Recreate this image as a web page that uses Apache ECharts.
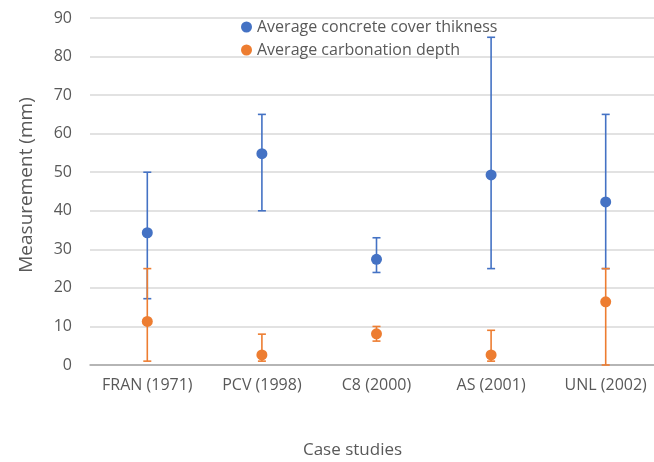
<!DOCTYPE html>
<html><head><meta charset="utf-8">
<script src="https://cdn.jsdelivr.net/npm/echarts@6/dist/echarts.min.js"></script>
<style>html,body{margin:0;padding:0;background:#fff;overflow:hidden}#c{width:664px;height:462px}</style>
</head><body><div id="c"></div>
<script>
var categories = ['FRAN (1971)', 'PCV (1998)', 'C8 (2000)', 'AS (2001)', 'UNL (2002)'];
var coverMean = [34.3, 54.8, 27.4, 49.3, 42.3];
var coverLow  = [17.2, 40, 24, 25, 25];
var coverHigh = [50, 65, 33, 85, 65];
var carbMean = [11.3, 2.6, 8.1, 2.6, 16.4];
var carbLow  = [1, 1, 6.2, 1, 0];
var carbHigh = [25, 8, 10, 9, 25];
var yTicks = [0, 10, 20, 30, 40, 50, 60, 70, 80, 90];

var BLUE = '#4472C4', ORANGE = '#ED7D31';

function errData(low, high) {
  return categories.map(function (c, i) { return [i, low[i], high[i]]; });
}
function errRender(color) {
  return function (params, api) {
    var x = api.value(0);
    var lo = api.coord([x, api.value(1)]);
    var hi = api.coord([x, api.value(2)]);
    var w = 4;
    var st = { stroke: color, lineWidth: 1.6 };
    return {
      type: 'group',
      children: [
        { type: 'line', shape: { x1: lo[0], y1: lo[1], x2: hi[0], y2: hi[1] }, style: st },
        { type: 'line', shape: { x1: hi[0] - w, y1: hi[1], x2: hi[0] + w, y2: hi[1] }, style: st },
        { type: 'line', shape: { x1: lo[0] - w, y1: lo[1], x2: lo[0] + w, y2: lo[1] }, style: st }
      ]
    };
  };
}

var chart = echarts.init(document.getElementById('c'));
chart.setOption({
  animation: false,
  backgroundColor: '#fff',
  textStyle: { fontFamily: 'Open Sans' },
  grid: { left: 90, right: 1, top: 18, bottom: 97, outerBoundsMode: 'none', containLabel: false },
  legend: {
    orient: 'vertical', left: 236, top: 14, itemGap: 7,
    icon: 'circle', itemWidth: 11, itemHeight: 11,
    textStyle: { color: '#595959', fontSize: 16, fontFamily: 'Open Sans', padding: [0, 0, 0, 0] },
    data: ['Average concrete cover thikness', 'Average carbonation depth']
  },
  xAxis: {
    type: 'category', data: categories,
    name: 'Case studies', nameLocation: 'middle', nameGap: 77,
    nameTextStyle: { color: '#595959', fontSize: 17, padding: [0, 48, 0, 0] },
    axisLine: { lineStyle: { color: '#a6a6a6', width: 1.5 } },
    axisTick: { show: false },
    axisLabel: { color: '#595959', fontSize: 16, margin: 12, interval: 0, hideOverlap: false }
  },
  yAxis: {
    type: 'value', min: 0, max: 90, interval: 10,
    name: 'Measurement (mm)', nameLocation: 'middle', nameGap: 54,
    nameTextStyle: { color: '#595959', fontSize: 19, padding: [0, 0, 0, 13] },
    axisLine: { show: false }, axisTick: { show: false },
    axisLabel: { color: '#595959', fontSize: 16, margin: 18,
      formatter: function (v) { return yTicks.indexOf(v) >= 0 ? String(v) : ''; } },
    splitLine: { lineStyle: { color: '#d9d9d9', width: 1.5 } }
  },
  series: [
    { type: 'custom', name: 'coverErr', renderItem: errRender(BLUE), data: errData(coverLow, coverHigh), z: 2, encode: { x: 0, y: [1, 2] } },
    { type: 'custom', name: 'carbErr', renderItem: errRender(ORANGE), data: errData(carbLow, carbHigh), z: 3, encode: { x: 0, y: [1, 2] } },
    { type: 'scatter', name: 'Average concrete cover thikness', data: coverMean, symbolSize: 11, itemStyle: { color: BLUE, opacity: 1 }, z: 5 },
    { type: 'scatter', name: 'Average carbonation depth', data: carbMean, symbolSize: 11, itemStyle: { color: ORANGE, opacity: 1 }, z: 6 }
  ]
});
</script>
</body></html>
